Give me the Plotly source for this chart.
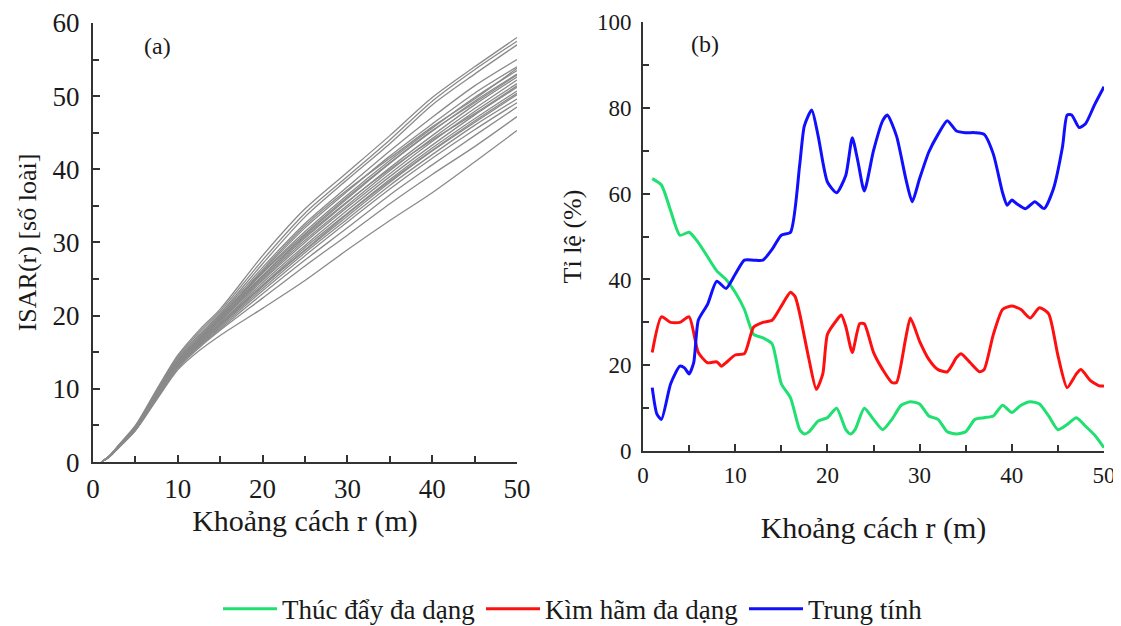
import plotly.graph_objects as go

# ---------------- Panel (a): ISAR(r) curves ----------------
r_a = [1, 2, 3, 5, 7.5, 10, 12.5, 15, 20, 25, 30, 35, 40, 45, 50]
isar_curves = [
    [0, 0.9, 2.3, 5.0, 9.9, 14.6, 18.0, 20.9, 28.2, 34.6, 39.6, 44.6, 49.8, 54.0, 58.0],
    [0, 0.9, 2.2, 4.9, 9.7, 14.4, 17.7, 20.6, 27.6, 34.0, 39.0, 44.0, 49.3, 53.6, 57.5],
    [0, 0.9, 2.2, 4.8, 9.6, 14.2, 17.4, 20.3, 27.1, 33.5, 38.6, 43.5, 48.8, 53.0, 57.0],
    [0, 0.9, 2.2, 4.8, 9.5, 14.0, 17.2, 20.1, 26.6, 32.6, 37.6, 42.5, 47.1, 51.4, 55.0],
    [0, 0.9, 2.2, 4.7, 9.4, 13.9, 17.0, 19.9, 26.1, 32.0, 37.0, 41.8, 46.2, 50.4, 54.0],
    [0, 0.9, 2.1, 4.7, 9.3, 13.8, 16.9, 19.8, 25.9, 31.5, 36.5, 41.2, 45.6, 49.8, 53.5],
    [0, 0.9, 2.1, 4.7, 9.3, 13.7, 16.8, 19.6, 25.5, 31.0, 36.0, 40.8, 45.2, 49.3, 53.0],
    [0, 0.9, 2.1, 4.6, 9.2, 13.6, 16.7, 19.5, 25.2, 30.6, 35.5, 40.2, 44.6, 48.8, 52.6],
    [0, 0.9, 2.1, 4.6, 9.2, 13.5, 16.6, 19.3, 25.0, 30.3, 35.1, 39.8, 44.2, 48.3, 52.2],
    [0, 0.9, 2.1, 4.6, 9.1, 13.5, 16.5, 19.2, 24.8, 30.0, 34.8, 39.4, 43.8, 47.9, 51.7],
    [0, 0.9, 2.1, 4.5, 9.1, 13.4, 16.4, 19.0, 24.5, 29.6, 34.4, 39.0, 43.3, 47.4, 51.2],
    [0, 0.8, 2.0, 4.5, 9.0, 13.3, 16.3, 18.9, 24.2, 29.3, 34.0, 38.6, 42.9, 46.9, 50.7],
    [0, 0.8, 2.0, 4.5, 9.0, 13.2, 16.1, 18.7, 24.0, 28.9, 33.6, 38.2, 42.5, 46.4, 50.2],
    [0, 0.8, 2.0, 4.4, 8.9, 13.2, 16.0, 18.6, 23.7, 28.6, 33.2, 37.8, 42.0, 46.0, 49.6],
    [0, 0.8, 2.0, 4.4, 8.8, 13.1, 15.9, 18.4, 23.4, 28.2, 32.8, 37.3, 41.5, 45.4, 49.1],
    [0, 0.8, 2.0, 4.4, 8.7, 13.0, 15.8, 18.2, 23.0, 27.6, 32.0, 36.5, 40.6, 44.6, 48.5],
    [0, 0.8, 2.0, 4.3, 8.6, 12.8, 15.6, 18.0, 22.4, 26.8, 31.0, 35.3, 39.3, 43.1, 47.2],
    [0, 0.8, 1.9, 4.3, 8.5, 12.6, 15.2, 17.3, 21.0, 24.8, 29.0, 33.0, 36.8, 41.0, 45.3],
    [0, 0.9, 2.1, 4.6, 9.2, 13.6, 16.9, 19.8, 26.3, 32.3, 37.2, 41.5, 45.8, 49.6, 53.8],
    [0, 0.9, 2.1, 4.6, 9.1, 13.5, 16.6, 19.4, 25.4, 30.8, 35.6, 40.0, 44.0, 47.6, 51.4],
    [0, 0.9, 2.1, 4.6, 9.2, 13.6, 16.8, 19.7, 25.8, 31.2, 36.2, 40.9, 45.3, 49.1, 52.9],
    [0, 0.8, 2.0, 4.5, 9.0, 13.3, 16.2, 18.8, 24.1, 29.0, 33.9, 38.4, 42.6, 46.6, 50.4],
]

# ---------------- Panel (b): percentages ----------------
r_green = [1, 2, 3, 4, 5, 6, 7, 8, 9, 10, 11, 12, 13, 14, 15, 16, 17, 17.5, 18, 19,
           20, 21, 22, 22.5, 23, 24, 25, 26, 27, 28, 29, 30, 31, 32, 33, 34, 35, 36,
           37, 38, 39, 40, 41, 42, 43, 44, 45, 46, 47, 48, 49, 50]
thuc_day = [63.5, 62, 56, 50.3, 51, 48.6, 45.3, 42, 40, 37, 33, 27.2, 26.4, 25, 15.7,
            12.4, 5, 4, 4.5, 7, 7.8, 10, 5, 4, 5, 10, 7.4, 5, 7.4, 10.7, 11.5, 11, 8.2,
            7.4, 4.5, 4, 4.5, 7.4, 7.8, 8.2, 10.7, 9, 10.7, 11.5, 11, 8.2, 5, 6.2, 7.8,
            5.8, 3.7, 0.8]

r_red = [1, 2, 3, 4, 5, 6, 7, 8, 8.5, 9, 10, 11, 12, 13, 14, 15, 16, 16.5, 17, 18,
         18.8, 19.5, 20, 21, 21.5, 22, 22.7, 23.5, 24, 25, 26, 27, 27.5, 28.5, 29, 30,
         31, 32, 33, 34, 34.5, 35.5, 36.5, 37, 38, 39, 40, 41, 42, 43, 44, 45, 46,
         47, 47.5, 48.5, 49.5, 50]
kim_ham = [23, 31.3, 30, 30, 31.3, 23, 20.6, 20.8, 19.8, 20.6, 22.4, 22.7, 28.9, 30,
           30.5, 33.8, 37, 36, 32, 21.4, 14.4, 18, 27.2, 30.5, 31.7, 29, 23, 29.7,
           29.7, 23, 19, 16, 16, 26.4, 31, 25.6, 21.4, 19, 18.5, 21.8, 22.7, 20.6,
           18.5, 19, 27.2, 33, 33.8, 33, 31, 33.4, 32, 22.3, 14.8, 18, 19, 16.5, 15.2,
           15.2]

r_blue = [1, 1.5, 2, 3, 4, 4.5, 5, 5.5, 6, 7, 8, 9, 10, 11, 12, 13, 14, 15, 16, 17,
          17.5, 18.3, 19, 20, 21, 22, 22.7, 23.3, 24, 25, 26, 26.5, 27.5, 28.5, 29.2,
          30, 31, 32, 33, 34, 35, 36, 37, 38, 39, 39.5, 40, 40.5, 41.5, 42.5, 43.5,
          44.5, 45.5, 46, 46.5, 47.3, 48, 49, 50]
trung_tinh = [14.8, 8.7, 7.4, 15.7, 19.8, 19.4, 18, 20.6, 30.5, 34.2, 39.6, 37.9, 41.2,
              44.5, 44.5, 44.5, 47, 50.3, 51, 66.8, 75.8, 79.5, 73.4, 62.7, 60.2, 64.3,
              73, 67.6, 60.6, 70, 77, 78.3, 73.4, 63.5, 58.1, 63.5, 69.7, 73.8, 77,
              74.6, 74.2, 74.2, 73.8, 69.2, 60.2, 57.3, 58.5, 57.7, 56.5, 58.1, 56.5,
              61, 70.9, 78.3, 78.3, 75.4, 76.3, 80.8, 84.9]

series_names = ["Thúc đẩy đa dạng", "Kìm hãm đa dạng", "Trung tính"]
series_colors = ["#1fe070", "#ff1010", "#1010ff"]

FONT = "Liberation Serif"
TXT = "#1a1a1a"
W, H = 1121, 626
OFF = 8  # page body margin offset in the browser

fig = go.Figure()

for ys in isar_curves:
    fig.add_trace(go.Scatter(x=r_a, y=ys, mode="lines", xaxis="x", yaxis="y",
                             line=dict(color="#8a8a8a", width=1.3, shape="spline", smoothing=0.8),
                             showlegend=False, hoverinfo="skip"))

for xs, ys, name, col in zip([r_green, r_red, r_blue], [thuc_day, kim_ham, trung_tinh],
                             series_names, series_colors):
    fig.add_trace(go.Scatter(x=xs, y=ys, mode="lines", name=name, xaxis="x2", yaxis="y2",
                             line=dict(color=col, width=3, shape="spline", smoothing=0.6)))


def px_x(p):
    return (p - OFF) / W


def px_y(p):
    return 1 - (p - OFF) / H


axis_common = dict(
    showgrid=False, zeroline=False, showline=True, linecolor="#333", linewidth=2,
    ticks="inside", ticklen=7, tickwidth=1.5, tickcolor="#333", automargin=False,
    ticklabeloverflow="allow",
    minor=dict(ticks="inside", ticklen=6, tickwidth=1.5, tickcolor="#333", dtick=5),
)

fig.update_layout(
    width=W, height=H,
    paper_bgcolor="white", plot_bgcolor="white",
    margin=dict(l=0, r=0, t=0, b=0),
    font=dict(family=FONT, color=TXT),
    xaxis=dict(axis_common, domain=[px_x(93), px_x(517)], range=[0, 50], dtick=10,
               anchor="y", tickfont=dict(family=FONT, size=27, color=TXT), ticklabelstandoff=2,
               title=dict(text="Khoảng cách r (m)", font=dict(family=FONT, size=30, color=TXT),
                          standoff=4)),
    yaxis=dict(axis_common, domain=[px_y(465), px_y(23)], range=[0, 60], dtick=10,
               anchor="x", tickfont=dict(family=FONT, size=27, color=TXT), ticklabelstandoff=6,
               title=dict(text="ISAR(r) [số loài]", font=dict(family=FONT, size=26, color=TXT),
                          standoff=8)),
    xaxis2=dict(axis_common, domain=[px_x(643), px_x(1104)], range=[0, 50], dtick=10,
                anchor="y2", tickfont=dict(family=FONT, size=23, color=TXT), ticklabelstandoff=2,
                title=dict(text="Khoảng cách r (m)", font=dict(family=FONT, size=30, color=TXT),
                           standoff=30)),
    yaxis2=dict(axis_common, domain=[px_y(454), px_y(22)], range=[0, 100], dtick=20,
                anchor="x2",
                minor=dict(ticks="inside", ticklen=6, tickwidth=1.5, tickcolor="#333", dtick=10),
                tickfont=dict(family=FONT, size=23, color=TXT), ticklabelstandoff=5,
                title=dict(text="Tỉ lệ (%)", font=dict(family=FONT, size=26, color=TXT),
                           standoff=8)),
    legend=dict(orientation="h", x=px_x(218), y=px_y(613), xanchor="left", yanchor="middle",
                font=dict(family=FONT, size=27, color=TXT), itemwidth=54, entrywidth=194,
                bgcolor="rgba(0,0,0,0)"),
    annotations=[
        dict(text="(a)", x=px_x(157), y=px_y(46), xref="paper", yref="paper",
             xanchor="center", yanchor="middle",
             showarrow=False, font=dict(family=FONT, size=24, color=TXT)),
        dict(text="(b)", x=px_x(705), y=px_y(44), xref="paper", yref="paper",
             xanchor="center", yanchor="middle",
             showarrow=False, font=dict(family=FONT, size=24, color=TXT)),
    ],
)

fig.write_html("out.html")
